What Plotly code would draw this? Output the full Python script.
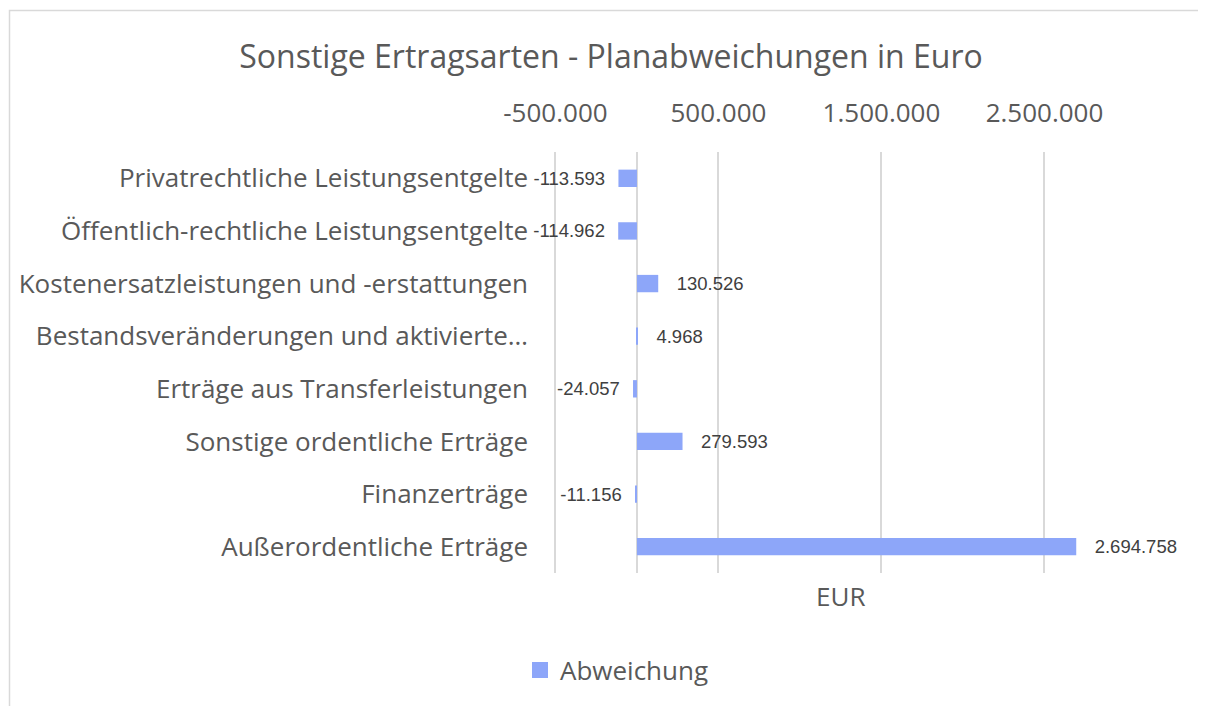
import plotly.graph_objects as go

categories = [
    "Privatrechtliche Leistungsentgelte",
    "Öffentlich-rechtliche Leistungsentgelte",
    "Kostenersatzleistungen und -erstattungen",
    "Bestandsveränderungen und aktivierte…",
    "Erträge aus Transferleistungen",
    "Sonstige ordentliche Erträge",
    "Finanzerträge",
    "Außerordentliche Erträge",
]
abweichung = [-113593, -114962, 130526, 4968, -24057, 279593, -11156, 2694758]
tick_vals = [-500000, 500000, 1500000, 2500000]
tick_text = ["-500.000", "500.000", "1.500.000", "2.500.000"]


def fmt(v):
    s = f"{abs(v):,}".replace(",", ".")
    if v < 0:
        return "-" + s + "\u00a0\u00a0"
    return "\u00a0\u00a0\u00a0" + s


grey = "#595959"
grid = "#D9D9D9"
bar_color = "#8DA6F9"

W, H = 1198, 698
L, R, T, B = 545, 80, 144, 133
PW = W - L - R
PH = H - T - B

fig = go.Figure()
fig.add_trace(go.Bar(
    y=categories,
    x=abweichung,
    orientation="h",
    name="Abweichung",
    showlegend=False,
    marker=dict(color=bar_color, line=dict(width=0)),
    width=0.33,
    text=[fmt(v) for v in abweichung],
    textposition="outside",
    constraintext="none",
    textfont=dict(family="Liberation Sans, Arial", size=18.5, color="#404040"),
    cliponaxis=False,
    hoverinfo="x+y",
))
# legend entry with a square swatch like the original
fig.add_trace(go.Scatter(
    x=[None], y=[None], mode="markers", name="Abweichung",
    marker=dict(symbol="square", size=17, color=bar_color),
    showlegend=True, hoverinfo="skip",
))

fig.update_layout(
    width=W,
    height=H,
    paper_bgcolor="white",
    plot_bgcolor="white",
    margin=dict(l=L, r=R, t=T, b=B),
    title=dict(
        text="Sonstige Ertragsarten - Planabweichungen in Euro",
        x=603 / W, xref="container", xanchor="center",
        y=1 - 49 / H, yref="container", yanchor="middle",
        font=dict(family="Open Sans", size=32, color=grey),
    ),
    showlegend=True,
    legend=dict(
        orientation="h",
        x=(609 - L) / PW, xanchor="center",
        y=(H - B - 662) / PH, yanchor="middle",
        font=dict(family="Open Sans", size=26, color=grey),
        itemsizing="trace",
        itemwidth=30,
    ),
    bargap=0.67,
    font=dict(family="Open Sans", color=grey),
)

fig.update_xaxes(
    side="top",
    range=[-515000, 3000000],
    tickvals=tick_vals,
    ticktext=tick_text,
    showgrid=True,
    gridcolor=grid,
    gridwidth=1.5,
    zeroline=True,
    zerolinecolor=grid,
    zerolinewidth=1.5,
    showline=False,
    ticks="",
    ticklabelstandoff=24,
    tickfont=dict(family="Open Sans", size=26, color=grey),
    fixedrange=True,
)
fig.update_yaxes(
    autorange="reversed",
    showgrid=False,
    zeroline=False,
    showline=False,
    ticks="",
    ticklabelstandoff=24,
    tickfont=dict(family="Open Sans", size=26, color=grey),
    fixedrange=True,
)

fig.add_annotation(
    text="EUR", xref="x domain", yref="y domain",
    x=(832 - L) / PW, y=(H - B - 588) / PH, yanchor="middle",
    showarrow=False,
    font=dict(family="Open Sans", size=26, color=grey),
)

# chart border
fig.add_shape(
    type="rect", xref="paper", yref="paper",
    x0=(1.5 - L) / PW, x1=(W + 10 - L) / PW,
    y0=(H - B - (H + 10)) / PH, y1=(H - B - 2.5) / PH,
    line=dict(color=grid, width=1.5), fillcolor="rgba(0,0,0,0)", layer="below",
)

fig.write_html("out.html")
